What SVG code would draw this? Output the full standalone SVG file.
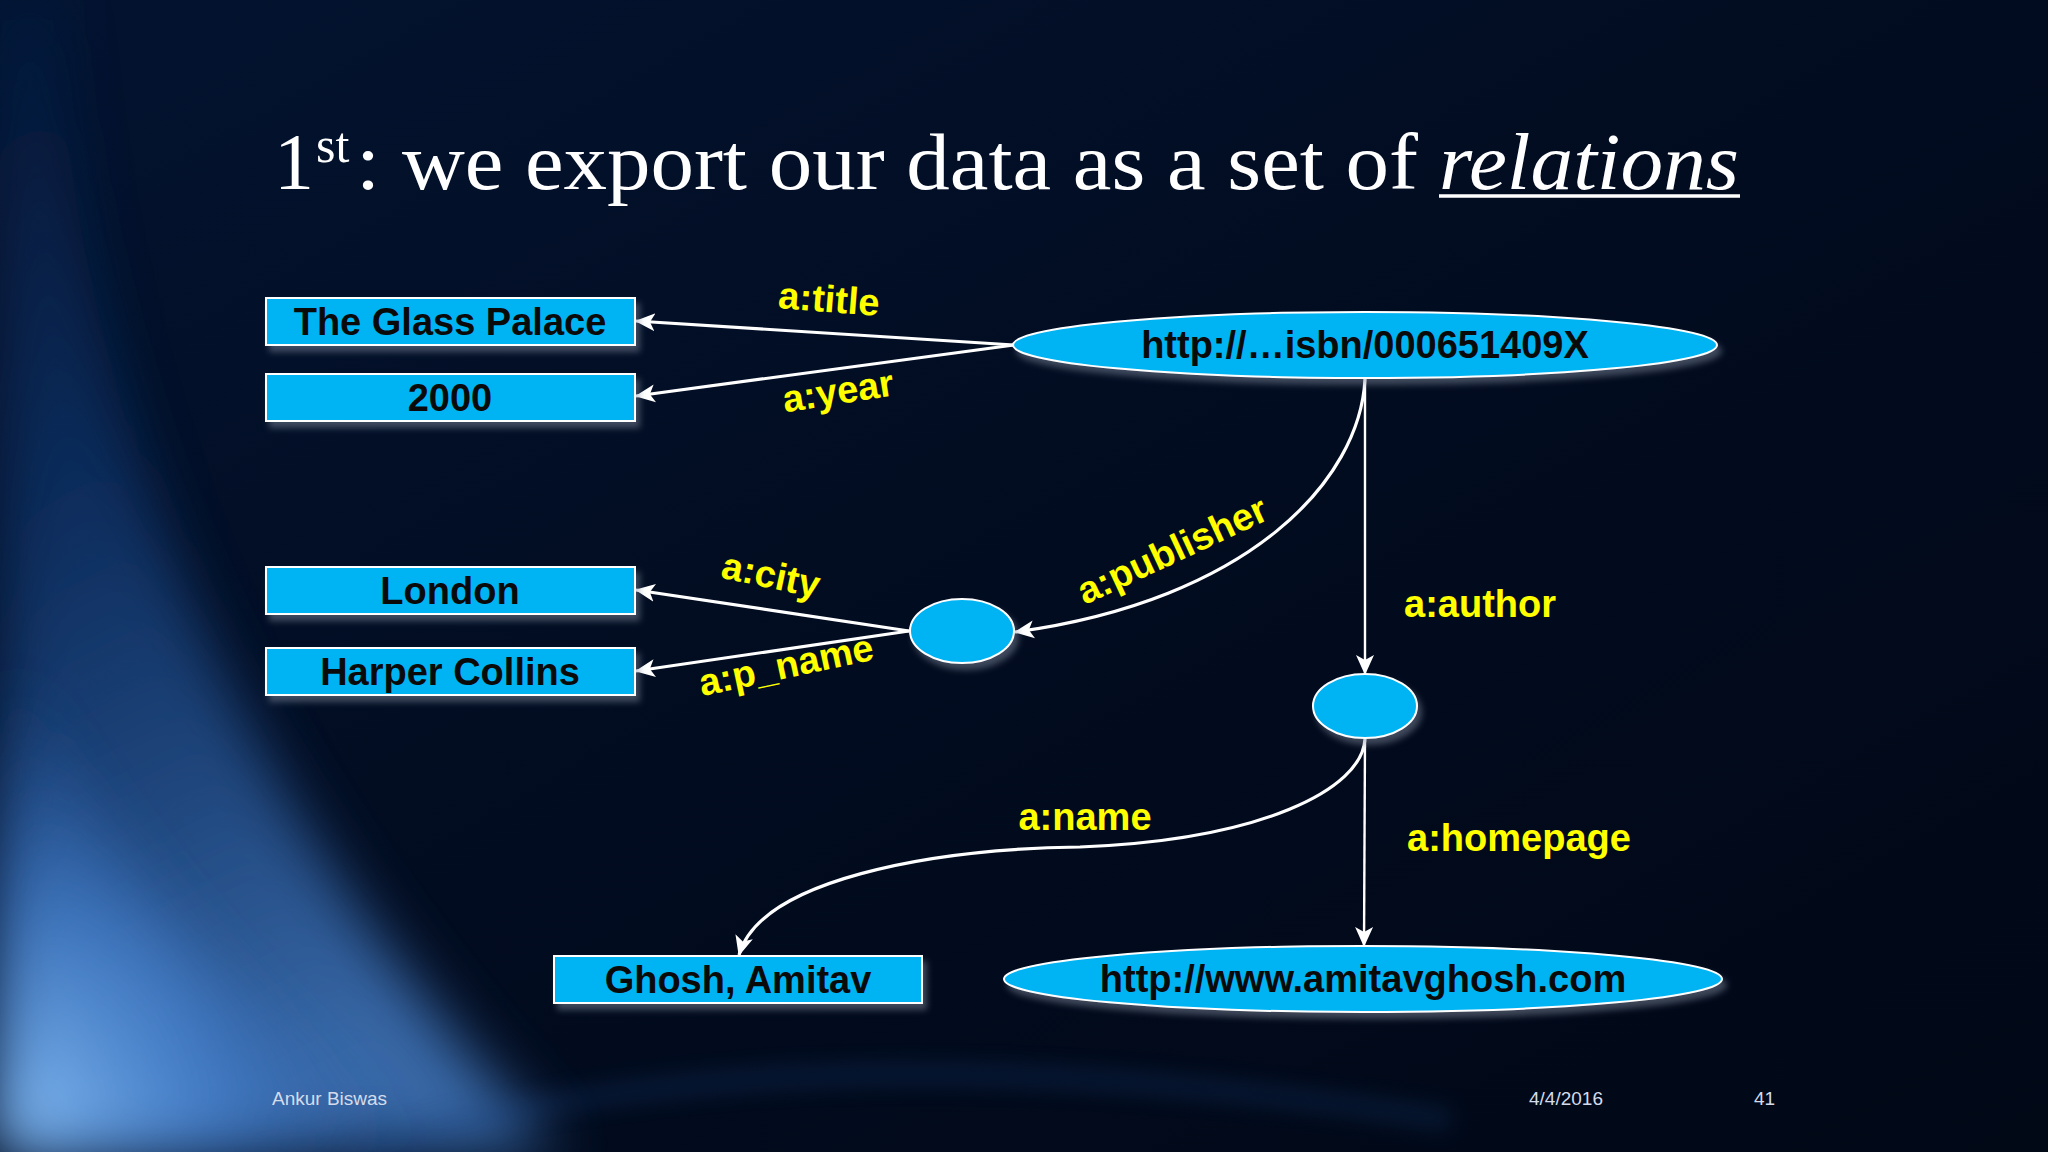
<svg xmlns="http://www.w3.org/2000/svg" width="2048" height="1152" viewBox="0 0 2048 1152">
<defs>
  <style>
    .box{fill:#00b4f4;stroke:#ffffff;stroke-width:2;}
    .node{fill:#00b4f4;stroke:#ffffff;stroke-width:2;}
    .lbl{font-family:"Liberation Sans",Arial,sans-serif;font-weight:bold;font-size:38px;fill:#0a0a0a;text-anchor:middle;}
    .edge{font-family:"Liberation Sans",Arial,sans-serif;font-weight:bold;font-size:38px;fill:#ffff00;text-anchor:middle;}
    .conn{fill:none;stroke:#ffffff;stroke-width:3.2;}
    .thin{stroke-width:2.4;}
    .title{font-family:"Liberation Serif","Times New Roman",serif;fill:#ffffff;}
    .foot{font-family:"Liberation Sans",Arial,sans-serif;font-size:19px;fill:#d4dcec;}
  </style>
  <marker id="arr" viewBox="0 0 20 20" refX="19" refY="10" markerWidth="20" markerHeight="20" markerUnits="userSpaceOnUse" orient="auto">
    <path d="M0,1 L20,10 L0,19 L5,10 Z" fill="#ffffff"/>
  </marker>
  <filter id="sh" x="-10%" y="-30%" width="125%" height="180%">
    <feDropShadow dx="4" dy="6" stdDeviation="3" flood-color="#8a94a6" flood-opacity="0.45"/>
  </filter>
  <filter id="blur" x="-30%" y="-20%" width="160%" height="140%">
    <feGaussianBlur stdDeviation="30"/>
  </filter>
  <filter id="blur2" x="-20%" y="-50%" width="140%" height="200%">
    <feGaussianBlur stdDeviation="10"/>
  </filter>
  <linearGradient id="bg" x1="0" y1="0" x2="1" y2="1">
    <stop offset="0" stop-color="#031330"/>
    <stop offset="0.5" stop-color="#020c20"/>
    <stop offset="1" stop-color="#010816"/>
  </linearGradient>
  <linearGradient id="sw1" x1="0" y1="0" x2="0.25" y2="1">
    <stop offset="0" stop-color="#0a2d60" stop-opacity="0.4"/>
    <stop offset="0.45" stop-color="#17498f" stop-opacity="0.75"/>
    <stop offset="1" stop-color="#4f8fe0"/>
  </linearGradient>
  <radialGradient id="corner" cx="0" cy="1" r="0.9">
    <stop offset="0" stop-color="#95ccff" stop-opacity="0.95"/>
    <stop offset="0.5" stop-color="#4f8fe0" stop-opacity="0.6"/>
    <stop offset="1" stop-color="#1d4f9a" stop-opacity="0"/>
  </radialGradient>
  <radialGradient id="bot" cx="0.5" cy="1" r="0.6">
    <stop offset="0" stop-color="#0e3a72" stop-opacity="0.6"/>
    <stop offset="1" stop-color="#0e3a72" stop-opacity="0"/>
  </radialGradient>
</defs>

<g id="background">
  <rect x="0" y="0" width="2048" height="1152" fill="url(#bg)"/>
  <ellipse cx="1000" cy="1190" rx="780" ry="140" fill="url(#bot)"/>
  <path d="M0,0 L55,0 C75,380 210,800 560,1152 L0,1152 Z" fill="url(#sw1)" filter="url(#blur)" opacity="0.7"/>
  <path d="M0,600 C70,830 210,1020 450,1152 L0,1152 Z" fill="url(#corner)" filter="url(#blur)"/>
  <path d="M350,1152 C650,1060 1000,1050 1450,1120" fill="none" stroke="#1a4a8a" stroke-width="24" opacity="0.2" filter="url(#blur2)"/>
</g>

<g id="title">
  <text class="title" x="274" y="189" font-size="80">1</text>
  <text class="title" x="316" y="162" font-size="50">st</text>
  <text class="title" x="356" y="189" font-size="80" textLength="1062" lengthAdjust="spacingAndGlyphs">: we export our data as a set of</text>
  <text class="title" x="1439" y="189" font-size="80" font-style="italic" textLength="300" lengthAdjust="spacingAndGlyphs">relations</text>
  <line x1="1439" y1="196" x2="1740" y2="196" stroke="#ffffff" stroke-width="3.5"/>
</g>

<g id="connectors">
  <line class="conn" x1="1014" y1="345" x2="636" y2="321" marker-end="url(#arr)"/>
  <line class="conn" x1="1014" y1="345" x2="636" y2="396" marker-end="url(#arr)"/>
  <path class="conn" d="M1365,379 C1360,480 1250,600 1015,632" marker-end="url(#arr)"/>
  <line class="conn thin" x1="1365" y1="379" x2="1365" y2="674" marker-end="url(#arr)"/>
  <line class="conn" x1="909" y1="631" x2="636" y2="590" marker-end="url(#arr)"/>
  <line class="conn" x1="909" y1="631" x2="636" y2="671" marker-end="url(#arr)"/>
  <path class="conn" d="M1365,739 C1362,790 1260,840 1080,847 C930,849 760,880 739,955" marker-end="url(#arr)"/>
  <line class="conn thin" x1="1365" y1="739" x2="1364" y2="946" marker-end="url(#arr)"/>
</g>

<g id="edge-labels">
  <text class="edge" x="829" y="312" transform="rotate(4.5 829 299)">a:title</text>
  <text class="edge" x="838" y="404" transform="rotate(-9 838 391)">a:year</text>
  <text class="edge" x="771" y="588" transform="rotate(12 771 575)">a:city</text>
  <text class="edge" x="786" y="678" transform="rotate(-12 786 665)">a:p_name</text>
  <text class="edge" x="1172" y="563" transform="rotate(-25 1172 550)">a:publisher</text>
  <text class="edge" x="1480" y="617">a:author</text>
  <text class="edge" x="1085" y="830">a:name</text>
  <text class="edge" x="1519" y="851">a:homepage</text>
</g>

<g id="node-title-lit">
  <rect class="box" x="266" y="298" width="369" height="47" filter="url(#sh)"/>
  <text class="lbl" x="450" y="335">The Glass Palace</text>
</g>
<g id="node-year-lit">
  <rect class="box" x="266" y="374" width="369" height="47" filter="url(#sh)"/>
  <text class="lbl" x="450" y="411">2000</text>
</g>
<g id="node-london">
  <rect class="box" x="266" y="567" width="369" height="47" filter="url(#sh)"/>
  <text class="lbl" x="450" y="604">London</text>
</g>
<g id="node-harper">
  <rect class="box" x="266" y="648" width="369" height="47" filter="url(#sh)"/>
  <text class="lbl" x="450" y="685">Harper Collins</text>
</g>
<g id="node-ghosh">
  <rect class="box" x="554" y="956" width="368" height="47" filter="url(#sh)"/>
  <text class="lbl" x="738" y="993">Ghosh, Amitav</text>
</g>
<g id="node-isbn">
  <ellipse class="node" cx="1365" cy="345" rx="352" ry="33" filter="url(#sh)"/>
  <text class="lbl" x="1365" y="358">http://…isbn/000651409X</text>
</g>
<g id="node-publisher">
  <ellipse class="node" cx="962" cy="631" rx="52" ry="32" filter="url(#sh)"/>
</g>
<g id="node-author">
  <ellipse class="node" cx="1365" cy="706" rx="52" ry="32" filter="url(#sh)"/>
</g>
<g id="node-homepage">
  <ellipse class="node" cx="1363" cy="979" rx="359" ry="33" filter="url(#sh)"/>
  <text class="lbl" x="1363" y="992">http://www.amitavghosh.com</text>
</g>

<g id="footer">
  <text class="foot" x="272" y="1105">Ankur Biswas</text>
  <text class="foot" x="1529" y="1105">4/4/2016</text>
  <text class="foot" x="1754" y="1105">41</text>
</g>
</svg>
